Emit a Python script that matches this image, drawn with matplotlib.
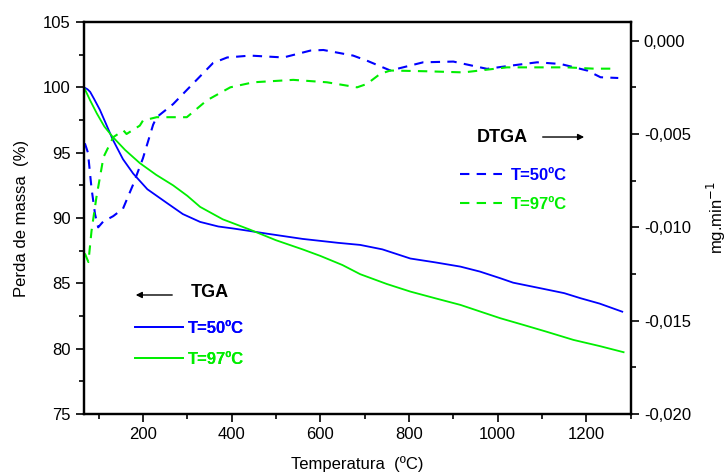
import matplotlib
matplotlib.use("Agg")
import matplotlib.pyplot as plt
from matplotlib.ticker import MultipleLocator, FuncFormatter

plt.rcParams['font.family'] = ['Liberation Sans', 'DejaVu Sans']

# TGA curves (massa %, eixo esquerdo)
tga_50_T = [67, 75, 81, 90, 103, 118, 132, 155, 178, 210, 254, 290, 329, 370, 403, 442,
            480, 520, 560, 600, 640, 690, 740, 803, 860, 916, 960, 1006, 1035, 1100,
            1150, 1187, 1230, 1281]
tga_50 = [100.0, 99.85, 99.65, 99.1, 98.27, 97.1, 96.0, 94.5, 93.4, 92.2, 91.15, 90.3,
          89.7, 89.35, 89.2, 89.0, 88.8, 88.6, 88.4, 88.25, 88.1, 87.94, 87.6, 86.9,
          86.6, 86.28, 85.9, 85.39, 85.05, 84.6, 84.25, 83.86, 83.45, 82.83]

tga_97_T = [67, 74, 80.5, 96, 113, 132, 160, 193, 230, 268, 300, 329, 380, 442, 500,
            560, 600, 650, 690, 750, 803, 860, 916, 960, 1006, 1060, 1110, 1171, 1230, 1284]
tga_97 = [100.0, 99.5, 99.03, 98.0, 97.0, 96.2, 95.2, 94.2, 93.3, 92.5, 91.7, 90.85,
          89.9, 89.1, 88.3, 87.6, 87.1, 86.4, 85.7, 84.95, 84.37, 83.85, 83.35, 82.85,
          82.33, 81.8, 81.3, 80.67, 80.2, 79.73]

# DTGA curves (mg/min, eixo direito)
dtga_50_T = [69, 76, 84, 92, 99, 110, 133, 155, 178, 200, 223, 231, 268, 313, 358, 390,
             442, 517, 578, 607, 674, 705, 758, 832, 900, 976, 1029, 1089, 1142, 1202,
             1232, 1272]
dtga_50 = [-0.0055, -0.0060, -0.0079, -0.0093, -0.0100, -0.0097, -0.0094, -0.0090,
           -0.0077, -0.0063, -0.0045, -0.0041, -0.0034, -0.0023, -0.0012, -0.0009,
           -0.0008, -0.0009, -0.00053, -0.0005, -0.0008, -0.00107, -0.0016, -0.00116,
           -0.00112, -0.00151, -0.00134, -0.00116, -0.00125, -0.0016, -0.00196, -0.0020]

dtga_97_T = [69, 77, 84, 95, 111, 133, 156, 163, 193, 200, 231, 268, 299, 344, 397, 449,
             539, 615, 683, 705, 735, 758, 840, 923, 1021, 1096, 1156, 1217, 1270]
dtga_97 = [-0.0114, -0.01186, -0.0102, -0.0084, -0.00624, -0.00517, -0.00481, -0.0050,
           -0.00455, -0.00428, -0.0041, -0.0041, -0.0041, -0.0032, -0.0025, -0.00223,
           -0.0021, -0.00223, -0.0025, -0.00232, -0.00178, -0.0016, -0.00164, -0.0017,
           -0.00143, -0.00143, -0.00143, -0.0015, -0.0015]

azul = '#0000ff'
verde = '#00ee00'

fig = plt.figure(figsize=(7.27, 4.75), dpi=100)
ax = fig.add_axes([0.1155, 0.1284, 0.752, 0.8253])
ax2 = ax.twinx()

l1, = ax.plot(tga_50_T, tga_50, color=azul, lw=1.3, label='T=50ºC')
l2, = ax.plot(tga_97_T, tga_97, color=verde, lw=1.3, label='T=97ºC')
d1, = ax2.plot(dtga_50_T, dtga_50, color=azul, lw=1.5, ls=(0, (4.5, 3.5)), label='T=50ºC')
d2, = ax2.plot(dtga_97_T, dtga_97, color=verde, lw=1.5, ls=(0, (4.5, 3.5)), label='T=97ºC')

ax.set_xlim(67, 1300)
ax.set_ylim(75, 105)
ax2.set_ylim(-0.020, 0.001)

ax.xaxis.set_major_locator(MultipleLocator(200))
ax.xaxis.set_minor_locator(MultipleLocator(100))
ax.yaxis.set_major_locator(MultipleLocator(5))
ax.yaxis.set_minor_locator(MultipleLocator(2.5))
ax2.yaxis.set_major_locator(MultipleLocator(0.005))
ax2.yaxis.set_minor_locator(MultipleLocator(0.0025))
ax2.yaxis.set_major_formatter(FuncFormatter(lambda v, p: f'{v:.3f}'.replace('.', ',').replace('-0,000', '0,000')))

for a in (ax, ax2):
    for s in a.spines.values():
        s.set_linewidth(1.6)
    a.tick_params(which='major', direction='out', length=6, width=1.2, labelsize=12)
    a.tick_params(which='minor', direction='out', length=3.5, width=1.2)
ax.tick_params(right=False, top=False)
ax2.tick_params(left=False, top=False)

ax.set_xlabel('Temperatura  (ºC)', fontsize=12, labelpad=10)
ax.set_ylabel('Perda de massa  (%)', fontsize=12, labelpad=10)
ax2.set_ylabel('mg.min$^{-1}$', fontsize=12, labelpad=10)

# legendas com setas
leg1 = ax.legend(handles=[l1, l2], loc='center left', bbox_to_anchor=(0.0933, 0.1786),
                 frameon=False, borderpad=0, borderaxespad=0, handlelength=2.9,
                 handletextpad=0.25, labelspacing=0.95, labelcolor='linecolor',
                 prop={'weight': 'bold', 'size': 12})
ax.add_artist(leg1)
ax2.legend(handles=[d1, d2], loc='center left', bbox_to_anchor=(0.6878, 0.5714),
           frameon=False, borderpad=0, borderaxespad=0, handlelength=2.5,
           handletextpad=0.55, labelspacing=0.85, labelcolor='linecolor',
           prop={'weight': 'bold', 'size': 12})

ax.text(0.2305, 0.311, 'TGA', transform=ax.transAxes, ha='center', va='center',
        fontsize=13, fontweight='bold')
ax.annotate('', xy=(0.0896, 0.3036), xytext=(0.1665, 0.3036), xycoords='axes fraction',
            arrowprops=dict(arrowstyle='-|>', color='k', lw=1, mutation_scale=9))
ax.text(0.7646, 0.7066, 'DTGA', transform=ax.transAxes, ha='center', va='center',
        fontsize=13, fontweight='bold')
ax.annotate('', xy=(0.920, 0.7066), xytext=(0.834, 0.7066), xycoords='axes fraction',
            arrowprops=dict(arrowstyle='-|>', color='k', lw=1, mutation_scale=9))

fig.savefig('out.png', dpi=100)
